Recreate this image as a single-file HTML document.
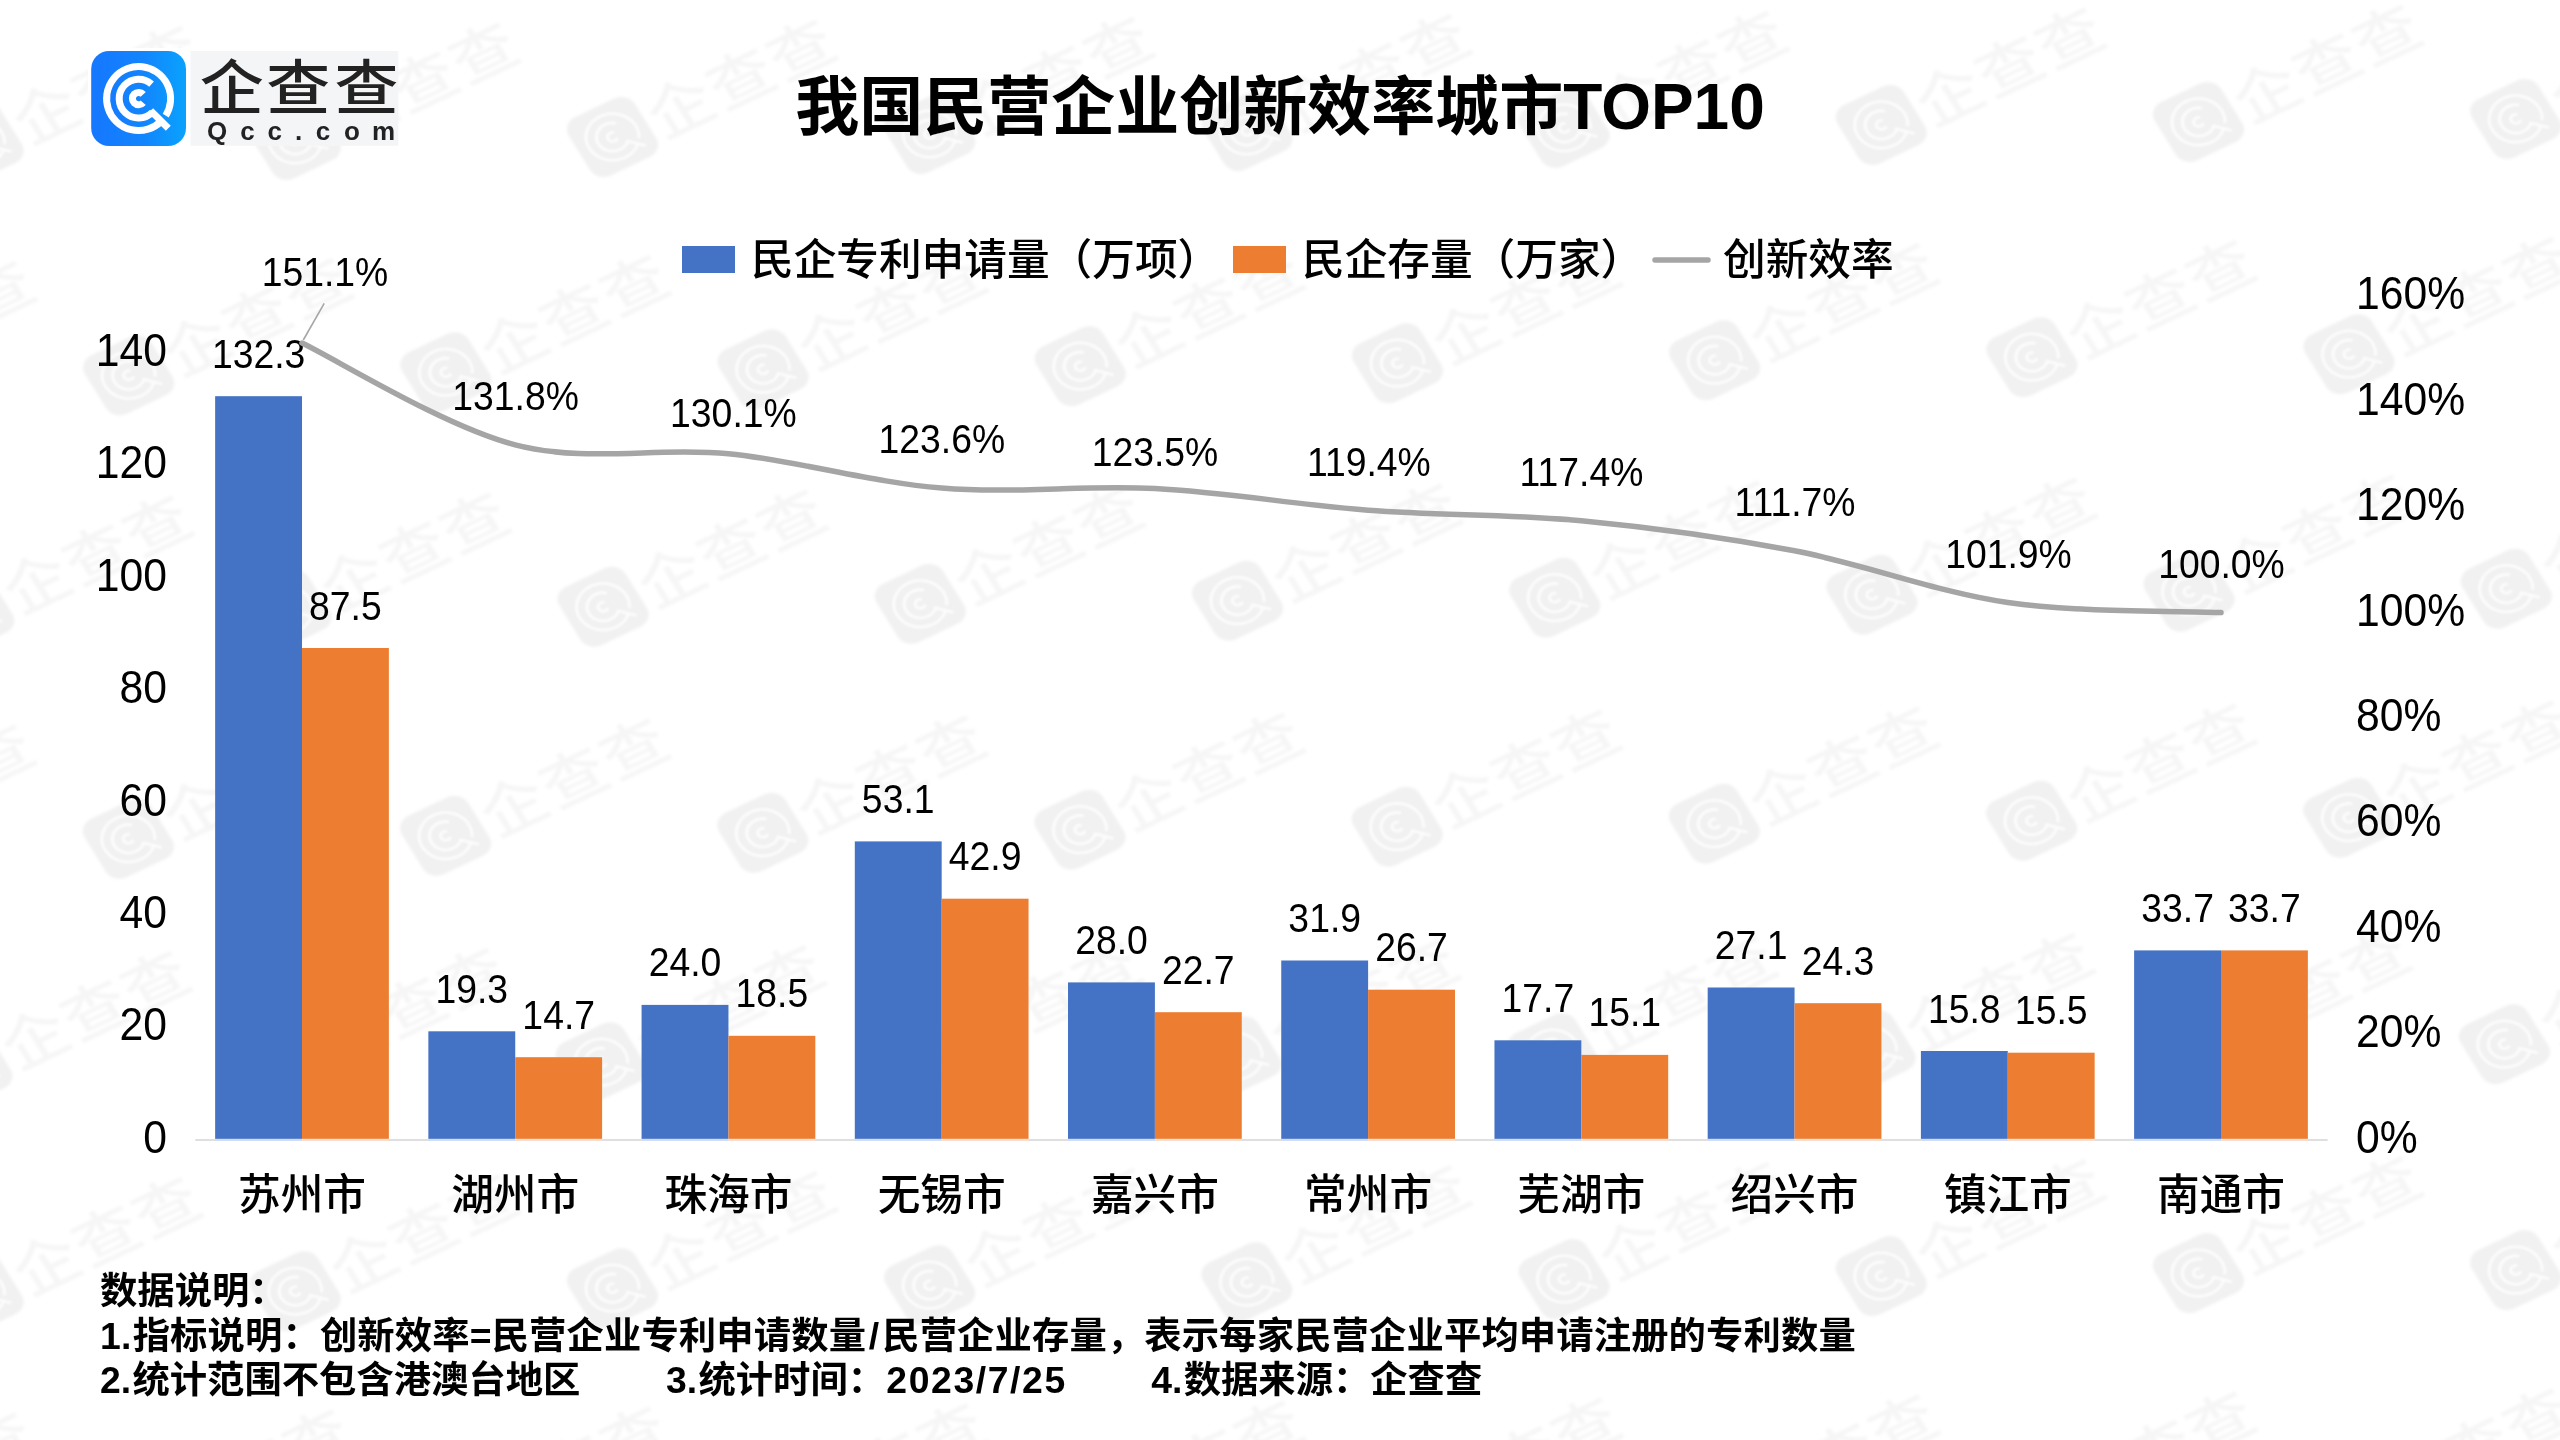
<!DOCTYPE html>
<html lang="zh-CN"><head><meta charset="utf-8"><title>我国民营企业创新效率城市TOP10</title>
<style>
html,body{margin:0;padding:0;background:#fff;}
body{width:2560px;height:1440px;overflow:hidden;}
svg{display:block;font-family:"Liberation Sans", "Noto Sans CJK SC", sans-serif;}
text{fill:#000;}
.ax{font-size:42.67px;font-weight:500;}
.dl{font-size:37.33px;text-anchor:middle;}
.ft{font-size:37.33px;font-weight:700;}
</style></head><body>
<svg width="2560" height="1440" viewBox="0 0 2560 1440">
<defs><linearGradient id="lg" x1="0" y1="0" x2="1" y2="0"><stop offset="0" stop-color="#1677ff"/><stop offset=".55" stop-color="#1285fd"/><stop offset="1" stop-color="#0aa2fd"/></linearGradient>
<filter id="wb" x="-5%" y="-5%" width="110%" height="110%"><feGaussianBlur stdDeviation="1.7"/></filter>
<filter id="wc" x="-5%" y="-5%" width="110%" height="110%"><feGaussianBlur stdDeviation=".9"/></filter></defs>
<rect width="2560" height="1440" fill="#fff"/>
<g filter="url(#wb)">
<g transform="translate(-33.1 -84.7) scale(1 .877) rotate(-28.5)"><rect x="-37.8" y="-37.8" width="75.6" height="75.6" rx="16" fill="#000" fill-opacity=".055"/><text x="145.7" y="27" text-anchor="middle" font-size="66" letter-spacing="2.4" font-weight="500" fill="#000" fill-opacity=".034">企查查</text></g>
<g transform="translate(284.1 -87.7) scale(1 .877) rotate(-28.5)"><rect x="-37.8" y="-37.8" width="75.6" height="75.6" rx="16" fill="#000" fill-opacity=".055"/><text x="145.7" y="27" text-anchor="middle" font-size="66" letter-spacing="2.4" font-weight="500" fill="#000" fill-opacity=".034">企查查</text></g>
<g transform="translate(601.3 -90.7) scale(1 .877) rotate(-28.5)"><rect x="-37.8" y="-37.8" width="75.6" height="75.6" rx="16" fill="#000" fill-opacity=".055"/><text x="145.7" y="27" text-anchor="middle" font-size="66" letter-spacing="2.4" font-weight="500" fill="#000" fill-opacity=".034">企查查</text></g>
<g transform="translate(918.5 -93.7) scale(1 .877) rotate(-28.5)"><rect x="-37.8" y="-37.8" width="75.6" height="75.6" rx="16" fill="#000" fill-opacity=".055"/><text x="145.7" y="27" text-anchor="middle" font-size="66" letter-spacing="2.4" font-weight="500" fill="#000" fill-opacity=".034">企查查</text></g>
<g transform="translate(1235.7 -96.7) scale(1 .877) rotate(-28.5)"><rect x="-37.8" y="-37.8" width="75.6" height="75.6" rx="16" fill="#000" fill-opacity=".055"/><text x="145.7" y="27" text-anchor="middle" font-size="66" letter-spacing="2.4" font-weight="500" fill="#000" fill-opacity=".034">企查查</text></g>
<g transform="translate(1552.9 -99.8) scale(1 .877) rotate(-28.5)"><rect x="-37.8" y="-37.8" width="75.6" height="75.6" rx="16" fill="#000" fill-opacity=".055"/><text x="145.7" y="27" text-anchor="middle" font-size="66" letter-spacing="2.4" font-weight="500" fill="#000" fill-opacity=".034">企查查</text></g>
<g transform="translate(1870.1 -102.8) scale(1 .877) rotate(-28.5)"><rect x="-37.8" y="-37.8" width="75.6" height="75.6" rx="16" fill="#000" fill-opacity=".055"/><text x="145.7" y="27" text-anchor="middle" font-size="66" letter-spacing="2.4" font-weight="500" fill="#000" fill-opacity=".034">企查查</text></g>
<g transform="translate(2187.3 -105.8) scale(1 .877) rotate(-28.5)"><rect x="-37.8" y="-37.8" width="75.6" height="75.6" rx="16" fill="#000" fill-opacity=".055"/><text x="145.7" y="27" text-anchor="middle" font-size="66" letter-spacing="2.4" font-weight="500" fill="#000" fill-opacity=".034">企查查</text></g>
<g transform="translate(2504.5 -108.8) scale(1 .877) rotate(-28.5)"><rect x="-37.8" y="-37.8" width="75.6" height="75.6" rx="16" fill="#000" fill-opacity=".055"/><text x="145.7" y="27" text-anchor="middle" font-size="66" letter-spacing="2.4" font-weight="500" fill="#000" fill-opacity=".034">企查查</text></g>
<g transform="translate(-21.9 143.0) scale(1 .877) rotate(-28.5)"><rect x="-37.8" y="-37.8" width="75.6" height="75.6" rx="16" fill="#000" fill-opacity=".055"/><text x="145.7" y="27" text-anchor="middle" font-size="66" letter-spacing="2.4" font-weight="500" fill="#000" fill-opacity=".034">企查查</text></g>
<g transform="translate(295.3 140.0) scale(1 .877) rotate(-28.5)"><rect x="-37.8" y="-37.8" width="75.6" height="75.6" rx="16" fill="#000" fill-opacity=".055"/><text x="145.7" y="27" text-anchor="middle" font-size="66" letter-spacing="2.4" font-weight="500" fill="#000" fill-opacity=".034">企查查</text></g>
<g transform="translate(612.5 137.0) scale(1 .877) rotate(-28.5)"><rect x="-37.8" y="-37.8" width="75.6" height="75.6" rx="16" fill="#000" fill-opacity=".055"/><text x="145.7" y="27" text-anchor="middle" font-size="66" letter-spacing="2.4" font-weight="500" fill="#000" fill-opacity=".034">企查查</text></g>
<g transform="translate(929.7 134.0) scale(1 .877) rotate(-28.5)"><rect x="-37.8" y="-37.8" width="75.6" height="75.6" rx="16" fill="#000" fill-opacity=".055"/><text x="145.7" y="27" text-anchor="middle" font-size="66" letter-spacing="2.4" font-weight="500" fill="#000" fill-opacity=".034">企查查</text></g>
<g transform="translate(1246.9 131.0) scale(1 .877) rotate(-28.5)"><rect x="-37.8" y="-37.8" width="75.6" height="75.6" rx="16" fill="#000" fill-opacity=".055"/><text x="145.7" y="27" text-anchor="middle" font-size="66" letter-spacing="2.4" font-weight="500" fill="#000" fill-opacity=".034">企查查</text></g>
<g transform="translate(1564.1 127.9) scale(1 .877) rotate(-28.5)"><rect x="-37.8" y="-37.8" width="75.6" height="75.6" rx="16" fill="#000" fill-opacity=".055"/><text x="145.7" y="27" text-anchor="middle" font-size="66" letter-spacing="2.4" font-weight="500" fill="#000" fill-opacity=".034">企查查</text></g>
<g transform="translate(1881.3 124.9) scale(1 .877) rotate(-28.5)"><rect x="-37.8" y="-37.8" width="75.6" height="75.6" rx="16" fill="#000" fill-opacity=".055"/><text x="145.7" y="27" text-anchor="middle" font-size="66" letter-spacing="2.4" font-weight="500" fill="#000" fill-opacity=".034">企查查</text></g>
<g transform="translate(2198.5 121.9) scale(1 .877) rotate(-28.5)"><rect x="-37.8" y="-37.8" width="75.6" height="75.6" rx="16" fill="#000" fill-opacity=".055"/><text x="145.7" y="27" text-anchor="middle" font-size="66" letter-spacing="2.4" font-weight="500" fill="#000" fill-opacity=".034">企查查</text></g>
<g transform="translate(2515.7 118.9) scale(1 .877) rotate(-28.5)"><rect x="-37.8" y="-37.8" width="75.6" height="75.6" rx="16" fill="#000" fill-opacity=".055"/><text x="145.7" y="27" text-anchor="middle" font-size="66" letter-spacing="2.4" font-weight="500" fill="#000" fill-opacity=".034">企查查</text></g>
<g transform="translate(-188.5 378.3) scale(1 .877) rotate(-28.5)"><rect x="-37.8" y="-37.8" width="75.6" height="75.6" rx="16" fill="#000" fill-opacity=".055"/><text x="145.7" y="27" text-anchor="middle" font-size="66" letter-spacing="2.4" font-weight="500" fill="#000" fill-opacity=".034">企查查</text></g>
<g transform="translate(128.7 375.3) scale(1 .877) rotate(-28.5)"><rect x="-37.8" y="-37.8" width="75.6" height="75.6" rx="16" fill="#000" fill-opacity=".055"/><text x="145.7" y="27" text-anchor="middle" font-size="66" letter-spacing="2.4" font-weight="500" fill="#000" fill-opacity=".034">企查查</text></g>
<g transform="translate(445.9 372.3) scale(1 .877) rotate(-28.5)"><rect x="-37.8" y="-37.8" width="75.6" height="75.6" rx="16" fill="#000" fill-opacity=".055"/><text x="145.7" y="27" text-anchor="middle" font-size="66" letter-spacing="2.4" font-weight="500" fill="#000" fill-opacity=".034">企查查</text></g>
<g transform="translate(763.1 369.3) scale(1 .877) rotate(-28.5)"><rect x="-37.8" y="-37.8" width="75.6" height="75.6" rx="16" fill="#000" fill-opacity=".055"/><text x="145.7" y="27" text-anchor="middle" font-size="66" letter-spacing="2.4" font-weight="500" fill="#000" fill-opacity=".034">企查查</text></g>
<g transform="translate(1080.3 366.2) scale(1 .877) rotate(-28.5)"><rect x="-37.8" y="-37.8" width="75.6" height="75.6" rx="16" fill="#000" fill-opacity=".055"/><text x="145.7" y="27" text-anchor="middle" font-size="66" letter-spacing="2.4" font-weight="500" fill="#000" fill-opacity=".034">企查查</text></g>
<g transform="translate(1397.5 363.2) scale(1 .877) rotate(-28.5)"><rect x="-37.8" y="-37.8" width="75.6" height="75.6" rx="16" fill="#000" fill-opacity=".055"/><text x="145.7" y="27" text-anchor="middle" font-size="66" letter-spacing="2.4" font-weight="500" fill="#000" fill-opacity=".034">企查查</text></g>
<g transform="translate(1714.7 360.2) scale(1 .877) rotate(-28.5)"><rect x="-37.8" y="-37.8" width="75.6" height="75.6" rx="16" fill="#000" fill-opacity=".055"/><text x="145.7" y="27" text-anchor="middle" font-size="66" letter-spacing="2.4" font-weight="500" fill="#000" fill-opacity=".034">企查查</text></g>
<g transform="translate(2031.9 357.2) scale(1 .877) rotate(-28.5)"><rect x="-37.8" y="-37.8" width="75.6" height="75.6" rx="16" fill="#000" fill-opacity=".055"/><text x="145.7" y="27" text-anchor="middle" font-size="66" letter-spacing="2.4" font-weight="500" fill="#000" fill-opacity=".034">企查查</text></g>
<g transform="translate(2349.1 354.2) scale(1 .877) rotate(-28.5)"><rect x="-37.8" y="-37.8" width="75.6" height="75.6" rx="16" fill="#000" fill-opacity=".055"/><text x="145.7" y="27" text-anchor="middle" font-size="66" letter-spacing="2.4" font-weight="500" fill="#000" fill-opacity=".034">企查查</text></g>
<g transform="translate(-31.3 612.8) scale(1 .877) rotate(-28.5)"><rect x="-37.8" y="-37.8" width="75.6" height="75.6" rx="16" fill="#000" fill-opacity=".055"/><text x="145.7" y="27" text-anchor="middle" font-size="66" letter-spacing="2.4" font-weight="500" fill="#000" fill-opacity=".034">企查查</text></g>
<g transform="translate(285.9 609.8) scale(1 .877) rotate(-28.5)"><rect x="-37.8" y="-37.8" width="75.6" height="75.6" rx="16" fill="#000" fill-opacity=".055"/><text x="145.7" y="27" text-anchor="middle" font-size="66" letter-spacing="2.4" font-weight="500" fill="#000" fill-opacity=".034">企查查</text></g>
<g transform="translate(603.1 606.8) scale(1 .877) rotate(-28.5)"><rect x="-37.8" y="-37.8" width="75.6" height="75.6" rx="16" fill="#000" fill-opacity=".055"/><text x="145.7" y="27" text-anchor="middle" font-size="66" letter-spacing="2.4" font-weight="500" fill="#000" fill-opacity=".034">企查查</text></g>
<g transform="translate(920.3 603.8) scale(1 .877) rotate(-28.5)"><rect x="-37.8" y="-37.8" width="75.6" height="75.6" rx="16" fill="#000" fill-opacity=".055"/><text x="145.7" y="27" text-anchor="middle" font-size="66" letter-spacing="2.4" font-weight="500" fill="#000" fill-opacity=".034">企查查</text></g>
<g transform="translate(1237.5 600.7) scale(1 .877) rotate(-28.5)"><rect x="-37.8" y="-37.8" width="75.6" height="75.6" rx="16" fill="#000" fill-opacity=".055"/><text x="145.7" y="27" text-anchor="middle" font-size="66" letter-spacing="2.4" font-weight="500" fill="#000" fill-opacity=".034">企查查</text></g>
<g transform="translate(1554.7 597.7) scale(1 .877) rotate(-28.5)"><rect x="-37.8" y="-37.8" width="75.6" height="75.6" rx="16" fill="#000" fill-opacity=".055"/><text x="145.7" y="27" text-anchor="middle" font-size="66" letter-spacing="2.4" font-weight="500" fill="#000" fill-opacity=".034">企查查</text></g>
<g transform="translate(1871.9 594.7) scale(1 .877) rotate(-28.5)"><rect x="-37.8" y="-37.8" width="75.6" height="75.6" rx="16" fill="#000" fill-opacity=".055"/><text x="145.7" y="27" text-anchor="middle" font-size="66" letter-spacing="2.4" font-weight="500" fill="#000" fill-opacity=".034">企查查</text></g>
<g transform="translate(2189.1 591.7) scale(1 .877) rotate(-28.5)"><rect x="-37.8" y="-37.8" width="75.6" height="75.6" rx="16" fill="#000" fill-opacity=".055"/><text x="145.7" y="27" text-anchor="middle" font-size="66" letter-spacing="2.4" font-weight="500" fill="#000" fill-opacity=".034">企查查</text></g>
<g transform="translate(2506.3 588.7) scale(1 .877) rotate(-28.5)"><rect x="-37.8" y="-37.8" width="75.6" height="75.6" rx="16" fill="#000" fill-opacity=".055"/><text x="145.7" y="27" text-anchor="middle" font-size="66" letter-spacing="2.4" font-weight="500" fill="#000" fill-opacity=".034">企查查</text></g>
<g transform="translate(-188.8 841.8) scale(1 .877) rotate(-28.5)"><rect x="-37.8" y="-37.8" width="75.6" height="75.6" rx="16" fill="#000" fill-opacity=".055"/><text x="145.7" y="27" text-anchor="middle" font-size="66" letter-spacing="2.4" font-weight="500" fill="#000" fill-opacity=".034">企查查</text></g>
<g transform="translate(128.4 838.8) scale(1 .877) rotate(-28.5)"><rect x="-37.8" y="-37.8" width="75.6" height="75.6" rx="16" fill="#000" fill-opacity=".055"/><text x="145.7" y="27" text-anchor="middle" font-size="66" letter-spacing="2.4" font-weight="500" fill="#000" fill-opacity=".034">企查查</text></g>
<g transform="translate(445.6 835.8) scale(1 .877) rotate(-28.5)"><rect x="-37.8" y="-37.8" width="75.6" height="75.6" rx="16" fill="#000" fill-opacity=".055"/><text x="145.7" y="27" text-anchor="middle" font-size="66" letter-spacing="2.4" font-weight="500" fill="#000" fill-opacity=".034">企查查</text></g>
<g transform="translate(762.8 832.8) scale(1 .877) rotate(-28.5)"><rect x="-37.8" y="-37.8" width="75.6" height="75.6" rx="16" fill="#000" fill-opacity=".055"/><text x="145.7" y="27" text-anchor="middle" font-size="66" letter-spacing="2.4" font-weight="500" fill="#000" fill-opacity=".034">企查查</text></g>
<g transform="translate(1080.0 829.7) scale(1 .877) rotate(-28.5)"><rect x="-37.8" y="-37.8" width="75.6" height="75.6" rx="16" fill="#000" fill-opacity=".055"/><text x="145.7" y="27" text-anchor="middle" font-size="66" letter-spacing="2.4" font-weight="500" fill="#000" fill-opacity=".034">企查查</text></g>
<g transform="translate(1397.2 826.7) scale(1 .877) rotate(-28.5)"><rect x="-37.8" y="-37.8" width="75.6" height="75.6" rx="16" fill="#000" fill-opacity=".055"/><text x="145.7" y="27" text-anchor="middle" font-size="66" letter-spacing="2.4" font-weight="500" fill="#000" fill-opacity=".034">企查查</text></g>
<g transform="translate(1714.4 823.7) scale(1 .877) rotate(-28.5)"><rect x="-37.8" y="-37.8" width="75.6" height="75.6" rx="16" fill="#000" fill-opacity=".055"/><text x="145.7" y="27" text-anchor="middle" font-size="66" letter-spacing="2.4" font-weight="500" fill="#000" fill-opacity=".034">企查查</text></g>
<g transform="translate(2031.6 820.7) scale(1 .877) rotate(-28.5)"><rect x="-37.8" y="-37.8" width="75.6" height="75.6" rx="16" fill="#000" fill-opacity=".055"/><text x="145.7" y="27" text-anchor="middle" font-size="66" letter-spacing="2.4" font-weight="500" fill="#000" fill-opacity=".034">企查查</text></g>
<g transform="translate(2348.8 817.7) scale(1 .877) rotate(-28.5)"><rect x="-37.8" y="-37.8" width="75.6" height="75.6" rx="16" fill="#000" fill-opacity=".055"/><text x="145.7" y="27" text-anchor="middle" font-size="66" letter-spacing="2.4" font-weight="500" fill="#000" fill-opacity=".034">企查查</text></g>
<g transform="translate(-33.1 1068.3) scale(1 .877) rotate(-28.5)"><rect x="-37.8" y="-37.8" width="75.6" height="75.6" rx="16" fill="#000" fill-opacity=".055"/><text x="145.7" y="27" text-anchor="middle" font-size="66" letter-spacing="2.4" font-weight="500" fill="#000" fill-opacity=".034">企查查</text></g>
<g transform="translate(284.1 1065.3) scale(1 .877) rotate(-28.5)"><rect x="-37.8" y="-37.8" width="75.6" height="75.6" rx="16" fill="#000" fill-opacity=".055"/><text x="145.7" y="27" text-anchor="middle" font-size="66" letter-spacing="2.4" font-weight="500" fill="#000" fill-opacity=".034">企查查</text></g>
<g transform="translate(601.3 1062.3) scale(1 .877) rotate(-28.5)"><rect x="-37.8" y="-37.8" width="75.6" height="75.6" rx="16" fill="#000" fill-opacity=".055"/><text x="145.7" y="27" text-anchor="middle" font-size="66" letter-spacing="2.4" font-weight="500" fill="#000" fill-opacity=".034">企查查</text></g>
<g transform="translate(918.5 1059.3) scale(1 .877) rotate(-28.5)"><rect x="-37.8" y="-37.8" width="75.6" height="75.6" rx="16" fill="#000" fill-opacity=".055"/><text x="145.7" y="27" text-anchor="middle" font-size="66" letter-spacing="2.4" font-weight="500" fill="#000" fill-opacity=".034">企查查</text></g>
<g transform="translate(1235.7 1056.3) scale(1 .877) rotate(-28.5)"><rect x="-37.8" y="-37.8" width="75.6" height="75.6" rx="16" fill="#000" fill-opacity=".055"/><text x="145.7" y="27" text-anchor="middle" font-size="66" letter-spacing="2.4" font-weight="500" fill="#000" fill-opacity=".034">企查查</text></g>
<g transform="translate(1552.9 1053.2) scale(1 .877) rotate(-28.5)"><rect x="-37.8" y="-37.8" width="75.6" height="75.6" rx="16" fill="#000" fill-opacity=".055"/><text x="145.7" y="27" text-anchor="middle" font-size="66" letter-spacing="2.4" font-weight="500" fill="#000" fill-opacity=".034">企查查</text></g>
<g transform="translate(1870.1 1050.2) scale(1 .877) rotate(-28.5)"><rect x="-37.8" y="-37.8" width="75.6" height="75.6" rx="16" fill="#000" fill-opacity=".055"/><text x="145.7" y="27" text-anchor="middle" font-size="66" letter-spacing="2.4" font-weight="500" fill="#000" fill-opacity=".034">企查查</text></g>
<g transform="translate(2187.3 1047.2) scale(1 .877) rotate(-28.5)"><rect x="-37.8" y="-37.8" width="75.6" height="75.6" rx="16" fill="#000" fill-opacity=".055"/><text x="145.7" y="27" text-anchor="middle" font-size="66" letter-spacing="2.4" font-weight="500" fill="#000" fill-opacity=".034">企查查</text></g>
<g transform="translate(2504.5 1044.2) scale(1 .877) rotate(-28.5)"><rect x="-37.8" y="-37.8" width="75.6" height="75.6" rx="16" fill="#000" fill-opacity=".055"/><text x="145.7" y="27" text-anchor="middle" font-size="66" letter-spacing="2.4" font-weight="500" fill="#000" fill-opacity=".034">企查查</text></g>
<g transform="translate(-21.9 1294.2) scale(1 .877) rotate(-28.5)"><rect x="-37.8" y="-37.8" width="75.6" height="75.6" rx="16" fill="#000" fill-opacity=".055"/><text x="145.7" y="27" text-anchor="middle" font-size="66" letter-spacing="2.4" font-weight="500" fill="#000" fill-opacity=".034">企查查</text></g>
<g transform="translate(295.3 1291.2) scale(1 .877) rotate(-28.5)"><rect x="-37.8" y="-37.8" width="75.6" height="75.6" rx="16" fill="#000" fill-opacity=".055"/><text x="145.7" y="27" text-anchor="middle" font-size="66" letter-spacing="2.4" font-weight="500" fill="#000" fill-opacity=".034">企查查</text></g>
<g transform="translate(612.5 1288.2) scale(1 .877) rotate(-28.5)"><rect x="-37.8" y="-37.8" width="75.6" height="75.6" rx="16" fill="#000" fill-opacity=".055"/><text x="145.7" y="27" text-anchor="middle" font-size="66" letter-spacing="2.4" font-weight="500" fill="#000" fill-opacity=".034">企查查</text></g>
<g transform="translate(929.7 1285.2) scale(1 .877) rotate(-28.5)"><rect x="-37.8" y="-37.8" width="75.6" height="75.6" rx="16" fill="#000" fill-opacity=".055"/><text x="145.7" y="27" text-anchor="middle" font-size="66" letter-spacing="2.4" font-weight="500" fill="#000" fill-opacity=".034">企查查</text></g>
<g transform="translate(1246.9 1282.2) scale(1 .877) rotate(-28.5)"><rect x="-37.8" y="-37.8" width="75.6" height="75.6" rx="16" fill="#000" fill-opacity=".055"/><text x="145.7" y="27" text-anchor="middle" font-size="66" letter-spacing="2.4" font-weight="500" fill="#000" fill-opacity=".034">企查查</text></g>
<g transform="translate(1564.1 1279.1) scale(1 .877) rotate(-28.5)"><rect x="-37.8" y="-37.8" width="75.6" height="75.6" rx="16" fill="#000" fill-opacity=".055"/><text x="145.7" y="27" text-anchor="middle" font-size="66" letter-spacing="2.4" font-weight="500" fill="#000" fill-opacity=".034">企查查</text></g>
<g transform="translate(1881.3 1276.1) scale(1 .877) rotate(-28.5)"><rect x="-37.8" y="-37.8" width="75.6" height="75.6" rx="16" fill="#000" fill-opacity=".055"/><text x="145.7" y="27" text-anchor="middle" font-size="66" letter-spacing="2.4" font-weight="500" fill="#000" fill-opacity=".034">企查查</text></g>
<g transform="translate(2198.5 1273.1) scale(1 .877) rotate(-28.5)"><rect x="-37.8" y="-37.8" width="75.6" height="75.6" rx="16" fill="#000" fill-opacity=".055"/><text x="145.7" y="27" text-anchor="middle" font-size="66" letter-spacing="2.4" font-weight="500" fill="#000" fill-opacity=".034">企查查</text></g>
<g transform="translate(2515.7 1270.1) scale(1 .877) rotate(-28.5)"><rect x="-37.8" y="-37.8" width="75.6" height="75.6" rx="16" fill="#000" fill-opacity=".055"/><text x="145.7" y="27" text-anchor="middle" font-size="66" letter-spacing="2.4" font-weight="500" fill="#000" fill-opacity=".034">企查查</text></g>
<g transform="translate(-188.5 1529.8) scale(1 .877) rotate(-28.5)"><rect x="-37.8" y="-37.8" width="75.6" height="75.6" rx="16" fill="#000" fill-opacity=".055"/><text x="145.7" y="27" text-anchor="middle" font-size="66" letter-spacing="2.4" font-weight="500" fill="#000" fill-opacity=".034">企查查</text></g>
<g transform="translate(128.7 1526.8) scale(1 .877) rotate(-28.5)"><rect x="-37.8" y="-37.8" width="75.6" height="75.6" rx="16" fill="#000" fill-opacity=".055"/><text x="145.7" y="27" text-anchor="middle" font-size="66" letter-spacing="2.4" font-weight="500" fill="#000" fill-opacity=".034">企查查</text></g>
<g transform="translate(445.9 1523.8) scale(1 .877) rotate(-28.5)"><rect x="-37.8" y="-37.8" width="75.6" height="75.6" rx="16" fill="#000" fill-opacity=".055"/><text x="145.7" y="27" text-anchor="middle" font-size="66" letter-spacing="2.4" font-weight="500" fill="#000" fill-opacity=".034">企查查</text></g>
<g transform="translate(763.1 1520.8) scale(1 .877) rotate(-28.5)"><rect x="-37.8" y="-37.8" width="75.6" height="75.6" rx="16" fill="#000" fill-opacity=".055"/><text x="145.7" y="27" text-anchor="middle" font-size="66" letter-spacing="2.4" font-weight="500" fill="#000" fill-opacity=".034">企查查</text></g>
<g transform="translate(1080.3 1517.7) scale(1 .877) rotate(-28.5)"><rect x="-37.8" y="-37.8" width="75.6" height="75.6" rx="16" fill="#000" fill-opacity=".055"/><text x="145.7" y="27" text-anchor="middle" font-size="66" letter-spacing="2.4" font-weight="500" fill="#000" fill-opacity=".034">企查查</text></g>
<g transform="translate(1397.5 1514.7) scale(1 .877) rotate(-28.5)"><rect x="-37.8" y="-37.8" width="75.6" height="75.6" rx="16" fill="#000" fill-opacity=".055"/><text x="145.7" y="27" text-anchor="middle" font-size="66" letter-spacing="2.4" font-weight="500" fill="#000" fill-opacity=".034">企查查</text></g>
<g transform="translate(1714.7 1511.7) scale(1 .877) rotate(-28.5)"><rect x="-37.8" y="-37.8" width="75.6" height="75.6" rx="16" fill="#000" fill-opacity=".055"/><text x="145.7" y="27" text-anchor="middle" font-size="66" letter-spacing="2.4" font-weight="500" fill="#000" fill-opacity=".034">企查查</text></g>
<g transform="translate(2031.9 1508.7) scale(1 .877) rotate(-28.5)"><rect x="-37.8" y="-37.8" width="75.6" height="75.6" rx="16" fill="#000" fill-opacity=".055"/><text x="145.7" y="27" text-anchor="middle" font-size="66" letter-spacing="2.4" font-weight="500" fill="#000" fill-opacity=".034">企查查</text></g>
<g transform="translate(2349.1 1505.7) scale(1 .877) rotate(-28.5)"><rect x="-37.8" y="-37.8" width="75.6" height="75.6" rx="16" fill="#000" fill-opacity=".055"/><text x="145.7" y="27" text-anchor="middle" font-size="66" letter-spacing="2.4" font-weight="500" fill="#000" fill-opacity=".034">企查查</text></g>
</g>
<g filter="url(#wc)" fill="none" stroke="#fff" stroke-opacity=".8" stroke-width="3.8">
<path transform="translate(-21.9 143.0) scale(1 .877) rotate(-28.5) scale(.83)" d="M22.23 23.02A32.0 32.0 0 1 1 27.14 16.96 M13.96 13.48A19.4 19.4 0 1 1 12.98 -14.42 M4.61 4.15A6.2 6.2 0 1 1 4.61 -4.15 M12.02 12.02L29.70 29.70"/>
<path transform="translate(295.3 140.0) scale(1 .877) rotate(-28.5) scale(.83)" d="M22.23 23.02A32.0 32.0 0 1 1 27.14 16.96 M13.96 13.48A19.4 19.4 0 1 1 12.98 -14.42 M4.61 4.15A6.2 6.2 0 1 1 4.61 -4.15 M12.02 12.02L29.70 29.70"/>
<path transform="translate(612.5 137.0) scale(1 .877) rotate(-28.5) scale(.83)" d="M22.23 23.02A32.0 32.0 0 1 1 27.14 16.96 M13.96 13.48A19.4 19.4 0 1 1 12.98 -14.42 M4.61 4.15A6.2 6.2 0 1 1 4.61 -4.15 M12.02 12.02L29.70 29.70"/>
<path transform="translate(929.7 134.0) scale(1 .877) rotate(-28.5) scale(.83)" d="M22.23 23.02A32.0 32.0 0 1 1 27.14 16.96 M13.96 13.48A19.4 19.4 0 1 1 12.98 -14.42 M4.61 4.15A6.2 6.2 0 1 1 4.61 -4.15 M12.02 12.02L29.70 29.70"/>
<path transform="translate(1246.9 131.0) scale(1 .877) rotate(-28.5) scale(.83)" d="M22.23 23.02A32.0 32.0 0 1 1 27.14 16.96 M13.96 13.48A19.4 19.4 0 1 1 12.98 -14.42 M4.61 4.15A6.2 6.2 0 1 1 4.61 -4.15 M12.02 12.02L29.70 29.70"/>
<path transform="translate(1564.1 127.9) scale(1 .877) rotate(-28.5) scale(.83)" d="M22.23 23.02A32.0 32.0 0 1 1 27.14 16.96 M13.96 13.48A19.4 19.4 0 1 1 12.98 -14.42 M4.61 4.15A6.2 6.2 0 1 1 4.61 -4.15 M12.02 12.02L29.70 29.70"/>
<path transform="translate(1881.3 124.9) scale(1 .877) rotate(-28.5) scale(.83)" d="M22.23 23.02A32.0 32.0 0 1 1 27.14 16.96 M13.96 13.48A19.4 19.4 0 1 1 12.98 -14.42 M4.61 4.15A6.2 6.2 0 1 1 4.61 -4.15 M12.02 12.02L29.70 29.70"/>
<path transform="translate(2198.5 121.9) scale(1 .877) rotate(-28.5) scale(.83)" d="M22.23 23.02A32.0 32.0 0 1 1 27.14 16.96 M13.96 13.48A19.4 19.4 0 1 1 12.98 -14.42 M4.61 4.15A6.2 6.2 0 1 1 4.61 -4.15 M12.02 12.02L29.70 29.70"/>
<path transform="translate(2515.7 118.9) scale(1 .877) rotate(-28.5) scale(.83)" d="M22.23 23.02A32.0 32.0 0 1 1 27.14 16.96 M13.96 13.48A19.4 19.4 0 1 1 12.98 -14.42 M4.61 4.15A6.2 6.2 0 1 1 4.61 -4.15 M12.02 12.02L29.70 29.70"/>
<path transform="translate(128.7 375.3) scale(1 .877) rotate(-28.5) scale(.83)" d="M22.23 23.02A32.0 32.0 0 1 1 27.14 16.96 M13.96 13.48A19.4 19.4 0 1 1 12.98 -14.42 M4.61 4.15A6.2 6.2 0 1 1 4.61 -4.15 M12.02 12.02L29.70 29.70"/>
<path transform="translate(445.9 372.3) scale(1 .877) rotate(-28.5) scale(.83)" d="M22.23 23.02A32.0 32.0 0 1 1 27.14 16.96 M13.96 13.48A19.4 19.4 0 1 1 12.98 -14.42 M4.61 4.15A6.2 6.2 0 1 1 4.61 -4.15 M12.02 12.02L29.70 29.70"/>
<path transform="translate(763.1 369.3) scale(1 .877) rotate(-28.5) scale(.83)" d="M22.23 23.02A32.0 32.0 0 1 1 27.14 16.96 M13.96 13.48A19.4 19.4 0 1 1 12.98 -14.42 M4.61 4.15A6.2 6.2 0 1 1 4.61 -4.15 M12.02 12.02L29.70 29.70"/>
<path transform="translate(1080.3 366.2) scale(1 .877) rotate(-28.5) scale(.83)" d="M22.23 23.02A32.0 32.0 0 1 1 27.14 16.96 M13.96 13.48A19.4 19.4 0 1 1 12.98 -14.42 M4.61 4.15A6.2 6.2 0 1 1 4.61 -4.15 M12.02 12.02L29.70 29.70"/>
<path transform="translate(1397.5 363.2) scale(1 .877) rotate(-28.5) scale(.83)" d="M22.23 23.02A32.0 32.0 0 1 1 27.14 16.96 M13.96 13.48A19.4 19.4 0 1 1 12.98 -14.42 M4.61 4.15A6.2 6.2 0 1 1 4.61 -4.15 M12.02 12.02L29.70 29.70"/>
<path transform="translate(1714.7 360.2) scale(1 .877) rotate(-28.5) scale(.83)" d="M22.23 23.02A32.0 32.0 0 1 1 27.14 16.96 M13.96 13.48A19.4 19.4 0 1 1 12.98 -14.42 M4.61 4.15A6.2 6.2 0 1 1 4.61 -4.15 M12.02 12.02L29.70 29.70"/>
<path transform="translate(2031.9 357.2) scale(1 .877) rotate(-28.5) scale(.83)" d="M22.23 23.02A32.0 32.0 0 1 1 27.14 16.96 M13.96 13.48A19.4 19.4 0 1 1 12.98 -14.42 M4.61 4.15A6.2 6.2 0 1 1 4.61 -4.15 M12.02 12.02L29.70 29.70"/>
<path transform="translate(2349.1 354.2) scale(1 .877) rotate(-28.5) scale(.83)" d="M22.23 23.02A32.0 32.0 0 1 1 27.14 16.96 M13.96 13.48A19.4 19.4 0 1 1 12.98 -14.42 M4.61 4.15A6.2 6.2 0 1 1 4.61 -4.15 M12.02 12.02L29.70 29.70"/>
<path transform="translate(-31.3 612.8) scale(1 .877) rotate(-28.5) scale(.83)" d="M22.23 23.02A32.0 32.0 0 1 1 27.14 16.96 M13.96 13.48A19.4 19.4 0 1 1 12.98 -14.42 M4.61 4.15A6.2 6.2 0 1 1 4.61 -4.15 M12.02 12.02L29.70 29.70"/>
<path transform="translate(285.9 609.8) scale(1 .877) rotate(-28.5) scale(.83)" d="M22.23 23.02A32.0 32.0 0 1 1 27.14 16.96 M13.96 13.48A19.4 19.4 0 1 1 12.98 -14.42 M4.61 4.15A6.2 6.2 0 1 1 4.61 -4.15 M12.02 12.02L29.70 29.70"/>
<path transform="translate(603.1 606.8) scale(1 .877) rotate(-28.5) scale(.83)" d="M22.23 23.02A32.0 32.0 0 1 1 27.14 16.96 M13.96 13.48A19.4 19.4 0 1 1 12.98 -14.42 M4.61 4.15A6.2 6.2 0 1 1 4.61 -4.15 M12.02 12.02L29.70 29.70"/>
<path transform="translate(920.3 603.8) scale(1 .877) rotate(-28.5) scale(.83)" d="M22.23 23.02A32.0 32.0 0 1 1 27.14 16.96 M13.96 13.48A19.4 19.4 0 1 1 12.98 -14.42 M4.61 4.15A6.2 6.2 0 1 1 4.61 -4.15 M12.02 12.02L29.70 29.70"/>
<path transform="translate(1237.5 600.7) scale(1 .877) rotate(-28.5) scale(.83)" d="M22.23 23.02A32.0 32.0 0 1 1 27.14 16.96 M13.96 13.48A19.4 19.4 0 1 1 12.98 -14.42 M4.61 4.15A6.2 6.2 0 1 1 4.61 -4.15 M12.02 12.02L29.70 29.70"/>
<path transform="translate(1554.7 597.7) scale(1 .877) rotate(-28.5) scale(.83)" d="M22.23 23.02A32.0 32.0 0 1 1 27.14 16.96 M13.96 13.48A19.4 19.4 0 1 1 12.98 -14.42 M4.61 4.15A6.2 6.2 0 1 1 4.61 -4.15 M12.02 12.02L29.70 29.70"/>
<path transform="translate(1871.9 594.7) scale(1 .877) rotate(-28.5) scale(.83)" d="M22.23 23.02A32.0 32.0 0 1 1 27.14 16.96 M13.96 13.48A19.4 19.4 0 1 1 12.98 -14.42 M4.61 4.15A6.2 6.2 0 1 1 4.61 -4.15 M12.02 12.02L29.70 29.70"/>
<path transform="translate(2189.1 591.7) scale(1 .877) rotate(-28.5) scale(.83)" d="M22.23 23.02A32.0 32.0 0 1 1 27.14 16.96 M13.96 13.48A19.4 19.4 0 1 1 12.98 -14.42 M4.61 4.15A6.2 6.2 0 1 1 4.61 -4.15 M12.02 12.02L29.70 29.70"/>
<path transform="translate(2506.3 588.7) scale(1 .877) rotate(-28.5) scale(.83)" d="M22.23 23.02A32.0 32.0 0 1 1 27.14 16.96 M13.96 13.48A19.4 19.4 0 1 1 12.98 -14.42 M4.61 4.15A6.2 6.2 0 1 1 4.61 -4.15 M12.02 12.02L29.70 29.70"/>
<path transform="translate(128.4 838.8) scale(1 .877) rotate(-28.5) scale(.83)" d="M22.23 23.02A32.0 32.0 0 1 1 27.14 16.96 M13.96 13.48A19.4 19.4 0 1 1 12.98 -14.42 M4.61 4.15A6.2 6.2 0 1 1 4.61 -4.15 M12.02 12.02L29.70 29.70"/>
<path transform="translate(445.6 835.8) scale(1 .877) rotate(-28.5) scale(.83)" d="M22.23 23.02A32.0 32.0 0 1 1 27.14 16.96 M13.96 13.48A19.4 19.4 0 1 1 12.98 -14.42 M4.61 4.15A6.2 6.2 0 1 1 4.61 -4.15 M12.02 12.02L29.70 29.70"/>
<path transform="translate(762.8 832.8) scale(1 .877) rotate(-28.5) scale(.83)" d="M22.23 23.02A32.0 32.0 0 1 1 27.14 16.96 M13.96 13.48A19.4 19.4 0 1 1 12.98 -14.42 M4.61 4.15A6.2 6.2 0 1 1 4.61 -4.15 M12.02 12.02L29.70 29.70"/>
<path transform="translate(1080.0 829.7) scale(1 .877) rotate(-28.5) scale(.83)" d="M22.23 23.02A32.0 32.0 0 1 1 27.14 16.96 M13.96 13.48A19.4 19.4 0 1 1 12.98 -14.42 M4.61 4.15A6.2 6.2 0 1 1 4.61 -4.15 M12.02 12.02L29.70 29.70"/>
<path transform="translate(1397.2 826.7) scale(1 .877) rotate(-28.5) scale(.83)" d="M22.23 23.02A32.0 32.0 0 1 1 27.14 16.96 M13.96 13.48A19.4 19.4 0 1 1 12.98 -14.42 M4.61 4.15A6.2 6.2 0 1 1 4.61 -4.15 M12.02 12.02L29.70 29.70"/>
<path transform="translate(1714.4 823.7) scale(1 .877) rotate(-28.5) scale(.83)" d="M22.23 23.02A32.0 32.0 0 1 1 27.14 16.96 M13.96 13.48A19.4 19.4 0 1 1 12.98 -14.42 M4.61 4.15A6.2 6.2 0 1 1 4.61 -4.15 M12.02 12.02L29.70 29.70"/>
<path transform="translate(2031.6 820.7) scale(1 .877) rotate(-28.5) scale(.83)" d="M22.23 23.02A32.0 32.0 0 1 1 27.14 16.96 M13.96 13.48A19.4 19.4 0 1 1 12.98 -14.42 M4.61 4.15A6.2 6.2 0 1 1 4.61 -4.15 M12.02 12.02L29.70 29.70"/>
<path transform="translate(2348.8 817.7) scale(1 .877) rotate(-28.5) scale(.83)" d="M22.23 23.02A32.0 32.0 0 1 1 27.14 16.96 M13.96 13.48A19.4 19.4 0 1 1 12.98 -14.42 M4.61 4.15A6.2 6.2 0 1 1 4.61 -4.15 M12.02 12.02L29.70 29.70"/>
<path transform="translate(-33.1 1068.3) scale(1 .877) rotate(-28.5) scale(.83)" d="M22.23 23.02A32.0 32.0 0 1 1 27.14 16.96 M13.96 13.48A19.4 19.4 0 1 1 12.98 -14.42 M4.61 4.15A6.2 6.2 0 1 1 4.61 -4.15 M12.02 12.02L29.70 29.70"/>
<path transform="translate(284.1 1065.3) scale(1 .877) rotate(-28.5) scale(.83)" d="M22.23 23.02A32.0 32.0 0 1 1 27.14 16.96 M13.96 13.48A19.4 19.4 0 1 1 12.98 -14.42 M4.61 4.15A6.2 6.2 0 1 1 4.61 -4.15 M12.02 12.02L29.70 29.70"/>
<path transform="translate(601.3 1062.3) scale(1 .877) rotate(-28.5) scale(.83)" d="M22.23 23.02A32.0 32.0 0 1 1 27.14 16.96 M13.96 13.48A19.4 19.4 0 1 1 12.98 -14.42 M4.61 4.15A6.2 6.2 0 1 1 4.61 -4.15 M12.02 12.02L29.70 29.70"/>
<path transform="translate(918.5 1059.3) scale(1 .877) rotate(-28.5) scale(.83)" d="M22.23 23.02A32.0 32.0 0 1 1 27.14 16.96 M13.96 13.48A19.4 19.4 0 1 1 12.98 -14.42 M4.61 4.15A6.2 6.2 0 1 1 4.61 -4.15 M12.02 12.02L29.70 29.70"/>
<path transform="translate(1235.7 1056.3) scale(1 .877) rotate(-28.5) scale(.83)" d="M22.23 23.02A32.0 32.0 0 1 1 27.14 16.96 M13.96 13.48A19.4 19.4 0 1 1 12.98 -14.42 M4.61 4.15A6.2 6.2 0 1 1 4.61 -4.15 M12.02 12.02L29.70 29.70"/>
<path transform="translate(1552.9 1053.2) scale(1 .877) rotate(-28.5) scale(.83)" d="M22.23 23.02A32.0 32.0 0 1 1 27.14 16.96 M13.96 13.48A19.4 19.4 0 1 1 12.98 -14.42 M4.61 4.15A6.2 6.2 0 1 1 4.61 -4.15 M12.02 12.02L29.70 29.70"/>
<path transform="translate(1870.1 1050.2) scale(1 .877) rotate(-28.5) scale(.83)" d="M22.23 23.02A32.0 32.0 0 1 1 27.14 16.96 M13.96 13.48A19.4 19.4 0 1 1 12.98 -14.42 M4.61 4.15A6.2 6.2 0 1 1 4.61 -4.15 M12.02 12.02L29.70 29.70"/>
<path transform="translate(2187.3 1047.2) scale(1 .877) rotate(-28.5) scale(.83)" d="M22.23 23.02A32.0 32.0 0 1 1 27.14 16.96 M13.96 13.48A19.4 19.4 0 1 1 12.98 -14.42 M4.61 4.15A6.2 6.2 0 1 1 4.61 -4.15 M12.02 12.02L29.70 29.70"/>
<path transform="translate(2504.5 1044.2) scale(1 .877) rotate(-28.5) scale(.83)" d="M22.23 23.02A32.0 32.0 0 1 1 27.14 16.96 M13.96 13.48A19.4 19.4 0 1 1 12.98 -14.42 M4.61 4.15A6.2 6.2 0 1 1 4.61 -4.15 M12.02 12.02L29.70 29.70"/>
<path transform="translate(-21.9 1294.2) scale(1 .877) rotate(-28.5) scale(.83)" d="M22.23 23.02A32.0 32.0 0 1 1 27.14 16.96 M13.96 13.48A19.4 19.4 0 1 1 12.98 -14.42 M4.61 4.15A6.2 6.2 0 1 1 4.61 -4.15 M12.02 12.02L29.70 29.70"/>
<path transform="translate(295.3 1291.2) scale(1 .877) rotate(-28.5) scale(.83)" d="M22.23 23.02A32.0 32.0 0 1 1 27.14 16.96 M13.96 13.48A19.4 19.4 0 1 1 12.98 -14.42 M4.61 4.15A6.2 6.2 0 1 1 4.61 -4.15 M12.02 12.02L29.70 29.70"/>
<path transform="translate(612.5 1288.2) scale(1 .877) rotate(-28.5) scale(.83)" d="M22.23 23.02A32.0 32.0 0 1 1 27.14 16.96 M13.96 13.48A19.4 19.4 0 1 1 12.98 -14.42 M4.61 4.15A6.2 6.2 0 1 1 4.61 -4.15 M12.02 12.02L29.70 29.70"/>
<path transform="translate(929.7 1285.2) scale(1 .877) rotate(-28.5) scale(.83)" d="M22.23 23.02A32.0 32.0 0 1 1 27.14 16.96 M13.96 13.48A19.4 19.4 0 1 1 12.98 -14.42 M4.61 4.15A6.2 6.2 0 1 1 4.61 -4.15 M12.02 12.02L29.70 29.70"/>
<path transform="translate(1246.9 1282.2) scale(1 .877) rotate(-28.5) scale(.83)" d="M22.23 23.02A32.0 32.0 0 1 1 27.14 16.96 M13.96 13.48A19.4 19.4 0 1 1 12.98 -14.42 M4.61 4.15A6.2 6.2 0 1 1 4.61 -4.15 M12.02 12.02L29.70 29.70"/>
<path transform="translate(1564.1 1279.1) scale(1 .877) rotate(-28.5) scale(.83)" d="M22.23 23.02A32.0 32.0 0 1 1 27.14 16.96 M13.96 13.48A19.4 19.4 0 1 1 12.98 -14.42 M4.61 4.15A6.2 6.2 0 1 1 4.61 -4.15 M12.02 12.02L29.70 29.70"/>
<path transform="translate(1881.3 1276.1) scale(1 .877) rotate(-28.5) scale(.83)" d="M22.23 23.02A32.0 32.0 0 1 1 27.14 16.96 M13.96 13.48A19.4 19.4 0 1 1 12.98 -14.42 M4.61 4.15A6.2 6.2 0 1 1 4.61 -4.15 M12.02 12.02L29.70 29.70"/>
<path transform="translate(2198.5 1273.1) scale(1 .877) rotate(-28.5) scale(.83)" d="M22.23 23.02A32.0 32.0 0 1 1 27.14 16.96 M13.96 13.48A19.4 19.4 0 1 1 12.98 -14.42 M4.61 4.15A6.2 6.2 0 1 1 4.61 -4.15 M12.02 12.02L29.70 29.70"/>
<path transform="translate(2515.7 1270.1) scale(1 .877) rotate(-28.5) scale(.83)" d="M22.23 23.02A32.0 32.0 0 1 1 27.14 16.96 M13.96 13.48A19.4 19.4 0 1 1 12.98 -14.42 M4.61 4.15A6.2 6.2 0 1 1 4.61 -4.15 M12.02 12.02L29.70 29.70"/>
</g>

<g>
<rect x="88" y="48" width="103" height="101" fill="#fff"/>
<rect x="190.5" y="51" width="207.8" height="94.8" fill="#f4f5f7"/>
<rect x="91.2" y="51" width="94.8" height="95" rx="18" fill="url(#lg)"/>
<path transform="translate(138.6 98.6)" d="M22.23 23.02A32.0 32.0 0 1 1 27.14 16.96 M13.96 13.48A19.4 19.4 0 1 1 12.98 -14.42 M4.61 4.15A6.2 6.2 0 1 1 4.61 -4.15 M12.02 12.02L29.70 29.70" fill="none" stroke="#fff" stroke-width="7"/>
<g transform="translate(0 108.5) scale(1 .93)"><text x="231.8 298.3 366.5" y="0" text-anchor="middle" font-size="64" font-weight="500" style="fill:#222">企查查</text></g>
<text x="217 247.5 274.7 298.7 323.1 352 383.6" y="139.8" text-anchor="middle" font-size="26" font-weight="700" style="fill:#222">Qcc.com</text>
</g>
<text x="1280" y="129" text-anchor="middle" font-size="64" font-weight="700">我国民营企业创新效率城市TOP10</text>
<rect x="682" y="246" width="53" height="27" fill="#4472c4"/>
<text class="ax" x="751" y="275">民企专利申请量（万项）</text>
<rect x="1233" y="246" width="53" height="27" fill="#ed7d31"/>
<text class="ax" x="1302" y="275">民企存量（万家）</text>
<line x1="1655" y1="260" x2="1708" y2="260" stroke="#a5a5a5" stroke-width="5.5" stroke-linecap="round"/>
<text class="ax" x="1723" y="275">创新效率</text>
<line x1="195.20000000000002" y1="1139.95" x2="2327.6" y2="1139.95" stroke="#d4d4d4" stroke-width="1.6"/>
<text class="ax" transform="translate(167.0 1152.8) scale(1 1.072)" text-anchor="end">0</text>
<text class="ax" transform="translate(167.0 1040.4) scale(1 1.072)" text-anchor="end">20</text>
<text class="ax" transform="translate(167.0 928.0) scale(1 1.072)" text-anchor="end">40</text>
<text class="ax" transform="translate(167.0 815.6) scale(1 1.072)" text-anchor="end">60</text>
<text class="ax" transform="translate(167.0 703.2) scale(1 1.072)" text-anchor="end">80</text>
<text class="ax" transform="translate(167.0 590.8) scale(1 1.072)" text-anchor="end">100</text>
<text class="ax" transform="translate(167.0 478.3) scale(1 1.072)" text-anchor="end">120</text>
<text class="ax" transform="translate(167.0 365.9) scale(1 1.072)" text-anchor="end">140</text>
<text class="ax" transform="translate(2356.0 1152.8) scale(1 1.072)">0%</text>
<text class="ax" transform="translate(2356.0 1047.3) scale(1 1.072)">20%</text>
<text class="ax" transform="translate(2356.0 941.9) scale(1 1.072)">40%</text>
<text class="ax" transform="translate(2356.0 836.4) scale(1 1.072)">60%</text>
<text class="ax" transform="translate(2356.0 731.0) scale(1 1.072)">80%</text>
<text class="ax" transform="translate(2356.0 625.5) scale(1 1.072)">100%</text>
<text class="ax" transform="translate(2356.0 520.0) scale(1 1.072)">120%</text>
<text class="ax" transform="translate(2356.0 414.6) scale(1 1.072)">140%</text>
<text class="ax" transform="translate(2356.0 309.1) scale(1 1.072)">160%</text>
<rect x="215.14" y="396.2" width="86.87" height="742.7" fill="#4472c4"/>
<rect x="302.01" y="648.0" width="86.87" height="490.9" fill="#ed7d31"/>
<rect x="215.14" y="1138.9" width="86.87" height="1.9" fill="#cfdcf5"/>
<rect x="302.01" y="1138.9" width="86.87" height="1.9" fill="#fbe0cf"/>
<text class="dl" transform="translate(258.6 367.7) scale(1 1.072)">132.3</text>
<text class="dl" transform="translate(345.4 619.5) scale(1 1.072)">87.5</text>
<text class="ax" x="302.0" y="1210" text-anchor="middle">苏州市</text>
<rect x="428.36" y="1031.3" width="86.87" height="107.6" fill="#4472c4"/>
<rect x="515.23" y="1057.2" width="86.87" height="81.7" fill="#ed7d31"/>
<rect x="428.36" y="1138.9" width="86.87" height="1.9" fill="#cfdcf5"/>
<rect x="515.23" y="1138.9" width="86.87" height="1.9" fill="#fbe0cf"/>
<text class="dl" transform="translate(471.8 1002.8) scale(1 1.072)">19.3</text>
<text class="dl" transform="translate(558.7 1028.7) scale(1 1.072)">14.7</text>
<text class="ax" x="515.2" y="1210" text-anchor="middle">湖州市</text>
<rect x="641.58" y="1004.9" width="86.87" height="134.0" fill="#4472c4"/>
<rect x="728.45" y="1035.8" width="86.87" height="103.1" fill="#ed7d31"/>
<rect x="641.58" y="1138.9" width="86.87" height="1.9" fill="#cfdcf5"/>
<rect x="728.45" y="1138.9" width="86.87" height="1.9" fill="#fbe0cf"/>
<text class="dl" transform="translate(685.0 976.4) scale(1 1.072)">24.0</text>
<text class="dl" transform="translate(771.9 1007.3) scale(1 1.072)">18.5</text>
<text class="ax" x="728.4" y="1210" text-anchor="middle">珠海市</text>
<rect x="854.80" y="841.4" width="86.87" height="297.5" fill="#4472c4"/>
<rect x="941.67" y="898.7" width="86.87" height="240.2" fill="#ed7d31"/>
<rect x="854.80" y="1138.9" width="86.87" height="1.9" fill="#cfdcf5"/>
<rect x="941.67" y="1138.9" width="86.87" height="1.9" fill="#fbe0cf"/>
<text class="dl" transform="translate(898.2 812.9) scale(1 1.072)">53.1</text>
<text class="dl" transform="translate(985.1 870.2) scale(1 1.072)">42.9</text>
<text class="ax" x="941.7" y="1210" text-anchor="middle">无锡市</text>
<rect x="1068.02" y="982.4" width="86.87" height="156.5" fill="#4472c4"/>
<rect x="1154.89" y="1012.2" width="86.87" height="126.7" fill="#ed7d31"/>
<rect x="1068.02" y="1138.9" width="86.87" height="1.9" fill="#cfdcf5"/>
<rect x="1154.89" y="1138.9" width="86.87" height="1.9" fill="#fbe0cf"/>
<text class="dl" transform="translate(1111.5 953.9) scale(1 1.072)">28.0</text>
<text class="dl" transform="translate(1198.3 983.7) scale(1 1.072)">22.7</text>
<text class="ax" x="1154.9" y="1210" text-anchor="middle">嘉兴市</text>
<rect x="1281.24" y="960.5" width="86.87" height="178.4" fill="#4472c4"/>
<rect x="1368.11" y="989.7" width="86.87" height="149.2" fill="#ed7d31"/>
<rect x="1281.24" y="1138.9" width="86.87" height="1.9" fill="#cfdcf5"/>
<rect x="1368.11" y="1138.9" width="86.87" height="1.9" fill="#fbe0cf"/>
<text class="dl" transform="translate(1324.7 932.0) scale(1 1.072)">31.9</text>
<text class="dl" transform="translate(1411.5 961.2) scale(1 1.072)">26.7</text>
<text class="ax" x="1368.1" y="1210" text-anchor="middle">常州市</text>
<rect x="1494.46" y="1040.3" width="86.87" height="98.6" fill="#4472c4"/>
<rect x="1581.33" y="1054.9" width="86.87" height="84.0" fill="#ed7d31"/>
<rect x="1494.46" y="1138.9" width="86.87" height="1.9" fill="#cfdcf5"/>
<rect x="1581.33" y="1138.9" width="86.87" height="1.9" fill="#fbe0cf"/>
<text class="dl" transform="translate(1537.9 1011.8) scale(1 1.072)">17.7</text>
<text class="dl" transform="translate(1624.8 1026.4) scale(1 1.072)">15.1</text>
<text class="ax" x="1581.3" y="1210" text-anchor="middle">芜湖市</text>
<rect x="1707.68" y="987.5" width="86.87" height="151.4" fill="#4472c4"/>
<rect x="1794.55" y="1003.2" width="86.87" height="135.7" fill="#ed7d31"/>
<rect x="1707.68" y="1138.9" width="86.87" height="1.9" fill="#cfdcf5"/>
<rect x="1794.55" y="1138.9" width="86.87" height="1.9" fill="#fbe0cf"/>
<text class="dl" transform="translate(1751.1 959.0) scale(1 1.072)">27.1</text>
<text class="dl" transform="translate(1838.0 974.7) scale(1 1.072)">24.3</text>
<text class="ax" x="1794.5" y="1210" text-anchor="middle">绍兴市</text>
<rect x="1920.90" y="1051.0" width="86.87" height="87.9" fill="#4472c4"/>
<rect x="2007.77" y="1052.7" width="86.87" height="86.2" fill="#ed7d31"/>
<rect x="1920.90" y="1138.9" width="86.87" height="1.9" fill="#cfdcf5"/>
<rect x="2007.77" y="1138.9" width="86.87" height="1.9" fill="#fbe0cf"/>
<text class="dl" transform="translate(1964.3 1022.5) scale(1 1.072)">15.8</text>
<text class="dl" transform="translate(2051.2 1024.2) scale(1 1.072)">15.5</text>
<text class="ax" x="2007.8" y="1210" text-anchor="middle">镇江市</text>
<rect x="2134.12" y="950.4" width="86.87" height="188.5" fill="#4472c4"/>
<rect x="2220.99" y="950.4" width="86.87" height="188.5" fill="#ed7d31"/>
<rect x="2134.12" y="1138.9" width="86.87" height="1.9" fill="#cfdcf5"/>
<rect x="2220.99" y="1138.9" width="86.87" height="1.9" fill="#fbe0cf"/>
<text class="dl" transform="translate(2177.6 921.9) scale(1 1.072)">33.7</text>
<text class="dl" transform="translate(2264.4 921.9) scale(1 1.072)">33.7</text>
<text class="ax" x="2221.0" y="1210" text-anchor="middle">南通市</text>
<path d="M302.0 343.0C337.5 360.0 444.2 426.4 515.2 444.8C586.3 463.3 657.4 446.6 728.4 453.8C799.5 461.0 870.6 482.3 941.7 488.1C1012.7 493.9 1083.8 484.9 1154.9 488.6C1226.0 492.3 1297.0 504.8 1368.1 510.2C1439.2 515.6 1510.3 514.0 1581.3 520.7C1652.4 527.5 1723.5 537.2 1794.5 550.8C1865.6 564.4 1936.7 592.2 2007.8 602.5C2078.8 612.8 2185.5 610.8 2221.0 612.5" fill="none" stroke="#a5a5a5" stroke-width="5.5" stroke-linecap="round" stroke-linejoin="round"/>
<line x1="324.2" y1="303.3" x2="303.3" y2="340" stroke="#a6a6a6" stroke-width="1.6"/>
<text class="dl" transform="translate(325.0 285.8) scale(1 1.072)">151.1%</text>
<text class="dl" transform="translate(515.6 409.5) scale(1 1.072)">131.8%</text>
<text class="dl" transform="translate(733.4 427.0) scale(1 1.072)">130.1%</text>
<text class="dl" transform="translate(941.8 452.5) scale(1 1.072)">123.6%</text>
<text class="dl" transform="translate(1155.0 465.8) scale(1 1.072)">123.5%</text>
<text class="dl" transform="translate(1368.8 475.8) scale(1 1.072)">119.4%</text>
<text class="dl" transform="translate(1581.5 485.8) scale(1 1.072)">117.4%</text>
<text class="dl" transform="translate(1795.0 515.5) scale(1 1.072)">111.7%</text>
<text class="dl" transform="translate(2008.5 567.5) scale(1 1.072)">101.9%</text>
<text class="dl" transform="translate(2221.5 577.5) scale(1 1.072)">100.0%</text>
<text class="ft" x="100" y="1304">数据说明：</text>
<text class="ft" x="100" y="1349" letter-spacing=".12">1.<tspan dx="1.3">指标说明：创新效率=民营企业专利申请数量</tspan><tspan dx="2.6">/</tspan><tspan dx="3">民营企业存量，表示每家民营企业平均申请注册的专利数量</tspan></text>
<text class="ft" x="100" y="1393">2.<tspan dx="1.3">统计范围不包含港澳台地区</tspan></text>
<text class="ft" x="666" y="1393">3.<tspan dx="1.3">统计时间：</tspan><tspan dx="1.2" letter-spacing="1.6">2023/7/25</tspan></text>
<text class="ft" x="1151.2" y="1393">4.<tspan dx="1.3">数据来源：企查查</tspan></text>
</svg></body></html>
